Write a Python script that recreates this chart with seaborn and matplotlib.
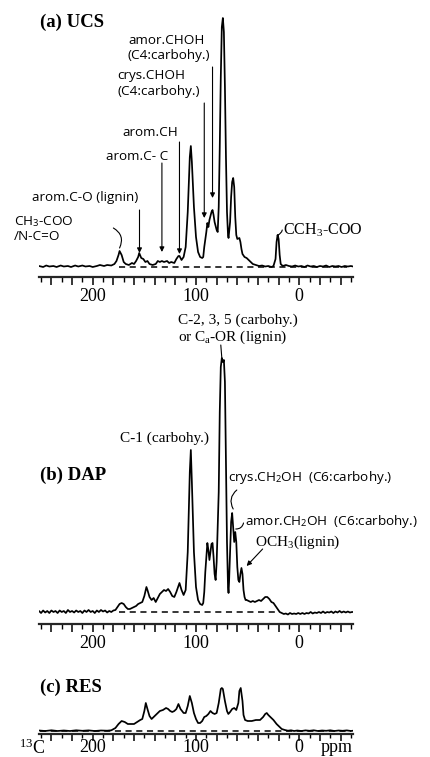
import matplotlib
matplotlib.use("Agg")
import matplotlib.pyplot as plt
import seaborn as sns
import pandas as pd
from matplotlib.ticker import MultipleLocator, FuncFormatter

# --- DATA (ppm, intensity, arbitrary units) ---
ucs_ppm = [252, 248, 245, 242, 238, 235, 231, 228, 224, 221, 217, 214, 210, 207, 203, 200,
           196, 193, 189, 186, 182, 179, 177, 175, 174, 172, 170, 168, 165, 162, 160, 158,
           156, 155, 153, 151, 149, 147, 145, 142, 139, 137, 135, 133, 131, 128, 126, 124,
           121, 119, 117, 116, 114, 112, 110, 108, 106, 105, 104, 102, 100, 98, 96, 94, 93,
           92, 90, 89, 88, 87, 85, 84, 83, 82, 80, 79, 78, 77, 76, 75, 74, 73, 72, 71, 70,
           69, 68.5, 67, 66, 65, 64, 63, 62, 61, 60, 58, 57, 56, 55, 53, 51, 48, 45, 42, 39,
           36, 33, 30, 27, 25, 23, 22, 21, 20, 19, 18, 16, 13, 10, 7, 4, 1, -2, -5, -8, -11,
           -14, -17, -20, -23, -26, -29, -32, -35, -38, -41, -44, -47, -50, -52]
ucs_int = [1, 0, 1.5, 0.5, 1, 0, 1.5, 0.5, 1, 0, 1.5, 0.5, 1.5, 0.5, 1, 0,
           1, 2, 1, 2, 1.5, 3, 6, 12, 16, 12, 5, 3, 2, 4, 3, 6,
           10, 14, 9, 8, 5, 6, 3, 2, 3, 6, 5, 6, 5, 6, 4, 5,
           4, 8, 11, 11, 7, 10, 20, 55, 110, 121, 105, 60, 30, 15, 10, 9, 10,
           20, 35, 44, 40, 47, 55, 57, 52, 45, 37, 35, 60, 120, 190, 240, 249, 235, 180, 110, 55,
           32, 29, 45, 70, 85, 89, 80, 50, 32, 28, 29, 25, 18, 13, 10, 9, 6, 3, 2, 1,
           1.5, 0.5, 1, 0, 1, 8, 25, 32, 28, 12, 3, 1, 2, 1, 0.5, 1.5, 0.5, 1, 0, 1.5, 0.5,
           1, 0, 1, 0.5, 1.5, 0, 1, 0.5, 1, 0, 1, 0.5, 1, 0.5]

dap_ppm = [252, 250, 248, 246, 244, 242, 240, 238, 236, 234, 232, 230, 228, 226, 224, 222,
           220, 218, 216, 214, 212, 210, 208, 206, 204, 202, 200, 198, 196, 194, 192, 190,
           188, 186, 184, 182, 180, 178, 176, 174, 172, 170, 168, 166, 164, 162, 160, 158,
           156, 154, 152, 150, 148, 147, 145, 143, 141, 139, 137, 135, 133, 131, 129, 127,
           125, 123, 121, 119, 117, 116, 114, 112, 110, 108, 106, 105, 104, 102, 100, 98,
           96, 94, 93, 92, 91, 90, 89, 88, 87, 86, 85, 84, 83, 82, 81, 80, 78, 77, 76, 75,
           74, 73, 72, 71, 70, 69, 68.5, 68, 67, 66, 65, 64, 63, 62, 61, 60, 59, 58, 57, 56,
           55, 54, 53, 52, 51, 49, 47, 45, 43, 41, 39, 37, 35, 33, 31, 29, 27, 25, 23, 21,
           19, 17, 15, 13, 11, 9, 7, 5, 3, 1, -1, -3, -5, -7, -9, -11, -13, -15, -17, -19,
           -21, -23, -25, -27, -29, -31, -33, -35, -37, -39, -41, -43, -45, -47, -49, -51, -52]
dap_int = [1, -1, 1.5, -0.5, 1, -1, 1.5, 0, 1, -1, 1.5, 0, 1, -1, 2, 0,
           1, -0.5, 1.5, 0, 1, -1, 1.5, 0, 2, 0, 1, -1, 1.5, 0, 2, 0.5,
           1.5, -0.5, 1, 0, 1.5, 2, 5, 8, 9, 8, 5, 3, 3, 4, 5, 6,
           8, 9, 10, 16, 25, 22, 15, 12, 14, 10, 14, 18, 20, 22, 21, 23,
           20, 16, 15, 20, 26, 29, 22, 17, 22, 60, 140, 162, 130, 60, 25, 12,
           8, 7, 9, 20, 40, 55, 69, 62, 52, 60, 68, 69, 55, 38, 32, 50, 120, 200, 245, 254,
           250, 252, 230, 150, 70, 25, 19, 30, 60, 90, 99, 85, 70, 80, 70, 45, 32, 30, 38, 44,
           38, 22, 15, 12, 12, 11, 10, 11, 10, 11, 12, 11, 13, 15, 15, 13, 10, 9, 6, 3,
           0, -1, -2, -1.5, -2.5, -1, -2, -1.5, -2, -1, -2, -1, -2, -1, -1.5, 0, -1.5, -0.5, -1, 0,
           -1, 0.5, -1, 0, -0.5, 0.5, -1, 0.5, -0.5, 1, -0.5, 0.5, -0.5, 0.5, -0.5, 0, 0]

res_ppm = [252, 246, 240, 234, 228, 222, 216, 210, 204, 198, 192, 186, 182, 178, 175, 172,
           169, 166, 163, 160, 157, 154, 152, 150, 148.6, 147, 145, 143, 141, 138, 135, 132,
           129, 127, 125, 123, 121, 119, 117, 115, 112, 110, 108, 106, 104, 102, 100, 98, 96,
           94, 92, 90, 88, 86, 84, 82, 80, 78, 76, 75, 74, 72, 70, 68.7, 67, 65, 63, 61, 59,
           58, 56.7, 55, 54, 52.5, 50, 46, 42, 38, 35, 33, 31.5, 30, 28, 25, 22, 19, 17, 14,
           11, 8, 5, 2, -2, -6, -10, -14, -18, -22, -26, -30, -34, -38, -42, -46, -50, -52]
res_int = [0.5, 0, 0.7, 0, 0.5, 0, 0.7, 0.2, 0.6, 0, 0.5, 0.3, 0.7, 3, 7, 10,
           9, 7, 7, 7, 9, 11, 12, 20, 28, 22, 15, 12, 14, 17, 20, 21,
           23, 22, 20, 19, 20, 22, 27, 22, 18, 18, 25, 35, 28, 18, 12, 8, 8,
           10, 14, 15, 17, 20, 18, 17, 18, 28, 42, 43, 42, 30, 20, 17, 19, 22, 23, 21, 28,
           40, 43, 30, 16, 11, 10, 10, 11, 11, 14, 17, 18, 16, 14, 11, 7, 4, 2, 1,
           0.3, 0.7, 0, 0.5, 0, 0.6, 0.2, 0.7, 0, 0.5, 0.2, 0.7, 0, 0.5, 0.2, 0.6, 0, 0.3]

# dashed reference baselines (ppm span)
ucs_dash = [175, -46]
dap_dash = [175, 20]
res_dash = [251, -50]

tick_labels = [200, 100, 0]

# --- STYLE ---
sns.set_theme(style="ticks")
plt.rcParams['font.family'] = ['Liberation Serif', 'DejaVu Serif']
plt.rcParams['mathtext.fontset'] = 'custom'
plt.rcParams['mathtext.rm'] = 'Liberation Serif'
plt.rcParams['mathtext.it'] = 'Liberation Serif:italic'
plt.rcParams['mathtext.bf'] = 'Liberation Serif:bold'
plt.rcParams['mathtext.sf'] = 'Open Sans'

W, H = 430, 757
SANS = ['Open Sans', 'DejaVu Sans']
SERIF = ['Liberation Serif', 'DejaVu Serif']

fig = plt.figure(figsize=(W / 100, H / 100), dpi=100)


def fx(x):
    return x / W


def fy(y):
    return 1 - y / H


def make_axes(top, bottom, ylim, tick_len=6, pad=2):
    ax = fig.add_axes([fx(39), fy(bottom), 314 / W, (bottom - top) / H])
    ax.set_xlim(252, -52)
    ax.set_ylim(*ylim)
    for s in ['top', 'left', 'right']:
        ax.spines[s].set_visible(False)
    ax.spines['bottom'].set_linewidth(1.6)
    ax.set_yticks([])
    ax.xaxis.set_major_locator(MultipleLocator(20))
    ax.xaxis.set_minor_locator(MultipleLocator(10))
    ax.xaxis.set_major_formatter(FuncFormatter(
        lambda v, p: f"{int(round(v))}" if int(round(v)) in tick_labels else ""))
    ax.tick_params(axis='x', which='major', direction='out', length=tick_len, width=1.1,
                   labelsize=13, pad=pad, color='black', labelcolor='black')
    ax.tick_params(axis='x', which='minor', direction='out', length=tick_len * 0.6,
                   width=1.0, color='black')
    ax.set_xlabel('')
    ax.set_ylabel('')
    ax.patch.set_alpha(0)
    return ax


def spectrum(ax, ppm, inten, dash):
    df = pd.DataFrame({'ppm': ppm, 'I': inten})
    sns.lineplot(data=df, x='ppm', y='I', ax=ax, color='black', lw=1.25,
                 sort=False, estimator=None)
    ax.plot(dash, [0, 0], color='black', lw=1.1, ls=(0, (4, 3)))
    ax.set_xlabel('')
    ax.set_ylabel('')


def label(txt, x, y, size=9.7, family=SANS, weight='normal'):
    fig.text(fx(x), fy(y), txt, ha='left', va='center', fontsize=size,
             family=family, weight=weight, color='black')


def pointer(ax, tip, start, head=True, rad=0.0):
    ax.annotate('', xy=tip, xytext=start, xycoords='data', textcoords='data',
                annotation_clip=False,
                arrowprops=dict(arrowstyle='-|>' if head else '-', lw=0.8,
                                color='black', mutation_scale=7,
                                shrinkA=0, shrinkB=0,
                                connectionstyle=f"arc3,rad={rad}"))


# --- (a) UCS ---
ax_a = make_axes(10, 277, (-10, 257))
spectrum(ax_a, ucs_ppm, ucs_int, ucs_dash)
label("(a) UCS", 40, 22, size=13.5, family=SERIF, weight='bold')
label("amor.CHOH", 128, 40)
label("(C4:carbohy.)", 128, 55)
label("crys.CHOH", 117, 76)
label("(C4:carbohy.)", 117, 92)
label("arom.CH", 122, 132)
label("arom.C- C", 106, 157)
label("arom.C-O (lignin)", 32, 197)
label("CH$_\\mathsf{3}$-COO", 14, 222)
label("/N-C=O", 14, 237)
label("CCH$_3$-COO", 283, 230, size=11.5, family=SERIF)
pointer(ax_a, (84, 69), (84, 200))
pointer(ax_a, (92, 49), (92, 164))
pointer(ax_a, (116, 13), (116, 125))
pointer(ax_a, (133, 15), (133, 104))
pointer(ax_a, (154.7, 14), (154.7, 57))
pointer(ax_a, (174, 19), (180, 39), head=False, rad=-0.45)
pointer(ax_a, (21, 32), (16.5, 37), head=False, rad=-0.3)

# --- (b) DAP ---
ax_b = make_axes(340, 624, (-12, 272))
spectrum(ax_b, dap_ppm, dap_int, dap_dash)
label("C-2, 3, 5 (carbohy.)", 178, 320, size=11, family=SERIF)
label("or C$_\\mathrm{a}$-OR (lignin)", 178, 337, size=11, family=SERIF)
label("C-1 (carbohy.)", 120, 438, size=11, family=SERIF)
label("(b) DAP", 40, 475, size=13.5, family=SERIF, weight='bold')
label("crys.CH$_\\mathsf{2}$OH  (C6:carbohy.)", 228, 478)
label("amor.CH$_\\mathsf{2}$OH  (C6:carbohy.)", 245, 521)
label("OCH$_3$(lignin)", 255, 542, size=11, family=SERIF)
pointer(ax_b, (75, 254), (76, 267), head=False)
pointer(ax_b, (64, 103), (60.5, 122), head=False, rad=0.4)
pointer(ax_b, (61.5, 83), (54, 89), head=False, rad=-0.4)
pointer(ax_b, (51, 46), (35.5, 63))

# --- (c) RES ---
ax_c = make_axes(680, 734, (-3, 51), tick_len=5, pad=-1.5)
spectrum(ax_c, res_ppm, res_int, res_dash)
label("(c) RES", 40, 687, size=13.5, family=SERIF, weight='bold')
label("$^{13}$C", 19, 748, size=13, family=SERIF)
label("ppm", 321, 747, size=13, family=SERIF)

fig.savefig("out.png", dpi=100)
